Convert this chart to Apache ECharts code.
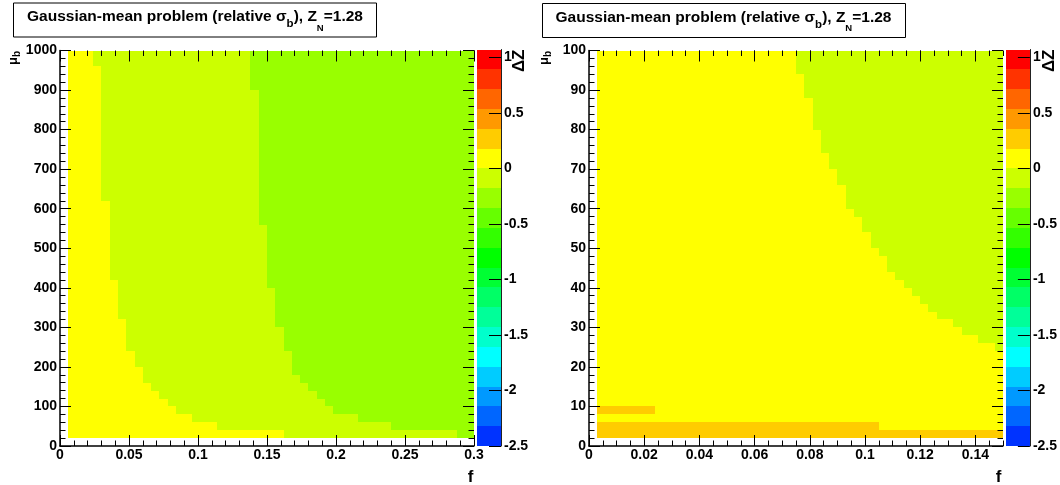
<!DOCTYPE html>
<html>
<head>
<meta charset="utf-8">
<script src="https://cdn.jsdelivr.net/npm/echarts@6/dist/echarts.min.js"></script>
<style>html,body{margin:0;padding:0;background:#fff}#c{width:1060px;height:485px}</style>
</head>
<body>
<div id="c"></div>
<script>
// ================= DATA =================
// tick labels
const leftXTicks  = [0, 0.05, 0.1, 0.15, 0.2, 0.25, 0.3];
const leftYTicks  = [0, 100, 200, 300, 400, 500, 600, 700, 800, 900, 1000];
const rightXTicks = [0, 0.02, 0.04, 0.06, 0.08, 0.1, 0.12, 0.14];
const rightYTicks = [0, 10, 20, 30, 40, 50, 60, 70, 80, 90, 100];
const paletteTicks = [-2.5, -2, -1.5, -1, -0.5, 0, 0.5, 1];

// histogram binning (50 x 50 bins, first row/column empty)
const nBins = 50;
const leftBinF = 0.006, leftBinMu = 20;
const rightBinF = 0.003, rightBinMu = 2;

// Delta Z level of each coloured region (read from the palette)
const dzOrange = 0.27, dzYellow = 0.09, dzYellowGreen = -0.09, dzGreen = -0.27;

// Left panel, rows mu_b bin 1..49: first f-bin that is no longer yellow
const leftYellowEnd = [27,19,16,14,13,12,11,10,10,9,9,8,8,8,8,7,7,7,7,7,
  6,6,6,6,6,6,6,6,6,6,5,5,5,5,5,5,5,5,5,5,5,5,5,5,5,5,5,4,4];
// Left panel: first f-bin that is green (below it yellow-green)
const leftGreenStart = [48,40,36,33,32,31,30,29,28,28,28,27,27,27,26,26,26,26,26,25,
  25,25,25,25,25,25,25,24,24,24,24,24,24,24,24,24,24,24,24,24,24,24,24,24,23,23,23,23,23];
// Right panel, rows 1..49: first f-bin that is yellow-green (50 = none)
const rightYGStart = [50,50,50,50,50,50,50,50,50,50,50,49,47,45,44,42,41,40,39,38,
  37,36,36,35,34,34,33,33,32,31,31,31,30,30,29,29,28,28,28,27,27,27,27,26,26,26,25,25,25];
// Right panel, rows 1..4: first f-bin that is no longer orange (0 = none)
const rightOrangeEnd = [50, 35, 0, 8];

// palette: 20 equal contours
const paletteMin = -2.5, paletteMax = 1.0714, paletteLevels = 20;
const paletteColors = ['#0033ff','#0066ff','#0099ff','#00ccff','#00ffff','#00ffcc','#00ff99','#00ff66',
  '#00ff33','#00ff00','#33ff00','#66ff00','#99ff00','#ccff00','#ffff00','#ffcc00','#ff9900','#ff6600','#ff3300','#ff0000'];

// ================= BUILD =================
function leftCells() {
  const out = [];
  for (let r = 1; r < nBins; r++) for (let c = 1; c < nBins; c++) {
    const v = c < leftYellowEnd[r-1] ? dzYellow : (c < leftGreenStart[r-1] ? dzYellowGreen : dzGreen);
    out.push([c*leftBinF, (c+1)*leftBinF, r*leftBinMu, (r+1)*leftBinMu, v]);
  }
  return out;
}
function rightCells() {
  const out = [];
  for (let r = 1; r < nBins; r++) for (let c = 1; c < nBins; c++) {
    const oe = rightOrangeEnd[r-1] || 0;
    const v = c < oe ? dzOrange : (c >= rightYGStart[r-1] ? dzYellowGreen : dzYellow);
    out.push([c*rightBinF, (c+1)*rightBinF, r*rightBinMu, (r+1)*rightBinMu, v]);
  }
  return out;
}
const bandW = (paletteMax - paletteMin) / paletteLevels;
const paletteBands = [];
for (let i = 0; i < paletteLevels; i++) {
  const lo = paletteMin + i*bandW, hi = lo + bandW;
  paletteBands.push([0, 1, lo, hi, (lo+hi)/2]);
}
const pieces = paletteColors.map((col, i) => ({
  gte: paletteMin + i*bandW, lt: paletteMin + (i+1)*bandW, color: col
}));
pieces[0].gte = -100; pieces[pieces.length-1].lt = 100;

const FONT = "'Liberation Sans', Arial, Helvetica, sans-serif";
const lbl = {fontFamily: FONT, fontWeight: 'bold', fontSize: 14, color: '#000'};
const fmt = v => String(v);

function majorAxis(gi, pos, r, labels, isY) {
  return {
    gridIndex: gi, type: 'value', position: pos, min: r.min, max: r.max, z: 5,
    axisLine: {show: labels, onZero: false, lineStyle: {color: '#000', width: 1.5}},
    axisTick: {show: true, inside: true, length: 11, customValues: r.ticks, lineStyle: {color: '#000', width: 1}},
    axisLabel: Object.assign({show: labels, customValues: r.ticks, margin: isY ? 3 : 2, formatter: fmt}, lbl),
    splitLine: {show: false}, minorTick: {show: false}
  };
}
function minorAxis(gi, pos, r) {
  return {
    gridIndex: gi, type: 'value', position: pos, min: r.min, max: r.max, interval: r.minor, z: 5,
    axisLine: {show: false, onZero: false},
    axisTick: {show: true, inside: true, length: 5.5, lineStyle: {color: '#000', width: 1}},
    axisLabel: {show: false}, splitLine: {show: false}
  };
}
function cbAxes(gi) {
  return {
    x: {gridIndex: gi, type: 'value', min: 0, max: 1, show: false},
    y: {gridIndex: gi, type: 'value', position: 'right', min: paletteMin, max: paletteMax, z: 5,
      axisLine: {show: true, onZero: false, lineStyle: {color: '#222', width: 1}},
      axisTick: {show: true, inside: true, length: 12, customValues: paletteTicks, lineStyle: {color: '#000', width: 1}},
      axisLabel: Object.assign({customValues: paletteTicks, margin: 3, formatter: fmt}, lbl),
      splitLine: {show: false}}
  };
}

const LX = {min: 0, max: 0.3, ticks: leftXTicks, minor: 0.01};
const LY = {min: 0, max: 1000, ticks: leftYTicks, minor: 20};
const RX = {min: 0, max: 0.15, ticks: rightXTicks, minor: 0.005};
const RY = {min: 0, max: 100, ticks: rightYTicks, minor: 2};
const cbL = cbAxes(1), cbR = cbAxes(3);

const xAxes = [
  majorAxis(0, 'bottom', LX, true, false), majorAxis(0, 'top', LX, false, false),
  minorAxis(0, 'bottom', LX), minorAxis(0, 'top', LX),
  cbL.x,
  majorAxis(2, 'bottom', RX, true, false), majorAxis(2, 'top', RX, false, false),
  minorAxis(2, 'bottom', RX), minorAxis(2, 'top', RX),
  cbR.x
];
const yAxes = [
  majorAxis(0, 'left', LY, true, true), majorAxis(0, 'right', LY, false, true),
  minorAxis(0, 'left', LY), minorAxis(0, 'right', LY),
  cbL.y,
  majorAxis(2, 'left', RY, true, true), majorAxis(2, 'right', RY, false, true),
  minorAxis(2, 'left', RY), minorAxis(2, 'right', RY),
  cbR.y
];

function renderRect(params, api) {
  const a = api.coord([api.value(0), api.value(2)]);
  const b = api.coord([api.value(1), api.value(3)]);
  const x0 = Math.round(Math.min(a[0], b[0])), x1 = Math.round(Math.max(a[0], b[0]));
  const y0 = Math.round(Math.min(a[1], b[1])), y1 = Math.round(Math.max(a[1], b[1]));
  return {type: 'rect', shape: {x: x0, y: y0, width: x1 - x0, height: y1 - y0},
    style: {fill: api.visual('color')}};
}
function cellSeries(xi, data) {
  return {type: 'custom', xAxisIndex: xi, yAxisIndex: xi, renderItem: renderRect, data: data,
    silent: true, animation: false, z: 1};
}

const titleRich = {
  m: {fontFamily: FONT, fontWeight: 'bold', fontSize: 15.5, lineHeight: 15, verticalAlign: 'top'},
  sb: {fontFamily: FONT, fontWeight: 'bold', fontSize: 11.5, lineHeight: 11, padding: [9,0,0,0], verticalAlign: 'top'},
  sn: {fontFamily: FONT, fontWeight: 'bold', fontSize: 9.5, lineHeight: 9, padding: [14,0,0,0], verticalAlign: 'top'}
};
const titleText = '{m|Gaussian-mean problem (relative σ}{sb|b}{m|), Z}{sn|N}{m|=1.28}';
const muRich = {
  m: {fontFamily: FONT, fontWeight: 'bold', fontSize: 13, lineHeight: 13, verticalAlign: 'top'},
  s: {fontFamily: FONT, fontWeight: 'bold', fontSize: 10, lineHeight: 10, padding: [6,0,0,0], verticalAlign: 'top'}
};
function titleBox(x, y, cx) {
  return [
    {type: 'rect', shape: {x: x, y: y, width: 363, height: 34}, style: {fill: '#fff', stroke: '#000', lineWidth: 1}},
    {type: 'text', x: cx, y: y + 6, style: {text: titleText, rich: titleRich, align: 'center', verticalAlign: 'top', fill: '#000'}}
  ];
}
function vtext(x, y, text, rich, size) {
  const s = {text: text, align: 'right', verticalAlign: 'middle', fill: '#000'};
  if (rich) s.rich = rich; else { s.fontFamily = FONT; s.fontWeight = 'bold'; s.fontSize = size; }
  return {type: 'text', x: x, y: y, rotation: Math.PI / 2, style: s};
}
function ftext(x) {
  return {type: 'text', x: x, y: 477, style: {text: 'f', fontFamily: FONT, fontWeight: 'bold', fontSize: 17,
    align: 'center', verticalAlign: 'middle', fill: '#000'}};
}

const chart = echarts.init(document.getElementById('c'), null, {renderer: 'canvas'});
chart.setOption({
  backgroundColor: '#fff',
  animation: false,
  grid: [
    {left: 60, top: 50.5, width: 414, height: 395.5},
    {left: 477, top: 49.5, width: 24, height: 396.5},
    {left: 589, top: 50.5, width: 414, height: 395.5},
    {left: 1006, top: 49.5, width: 24, height: 396.5}
  ],
  xAxis: xAxes,
  yAxis: yAxes,
  visualMap: {type: 'piecewise', show: false, dimension: 4, seriesIndex: [0,1,2,3], pieces: pieces},
  series: [
    cellSeries(0, leftCells()),
    cellSeries(4, paletteBands),
    cellSeries(5, rightCells()),
    cellSeries(9, paletteBands)
  ],
  graphic: [].concat(
    titleBox(13.5, 3, 195),
    titleBox(542.5, 3.5, 723.5),
    [
      vtext(13, 51, '{m|μ}{s|b}', muRich),
      vtext(544, 51, '{m|μ}{s|b}', muRich),
      vtext(519.5, 49.5, 'ΔZ', null, 17),
      vtext(1049, 49.5, 'ΔZ', null, 17),
      ftext(470.5),
      ftext(998.5)
    ]
  )
});
</script>
</body>
</html>
